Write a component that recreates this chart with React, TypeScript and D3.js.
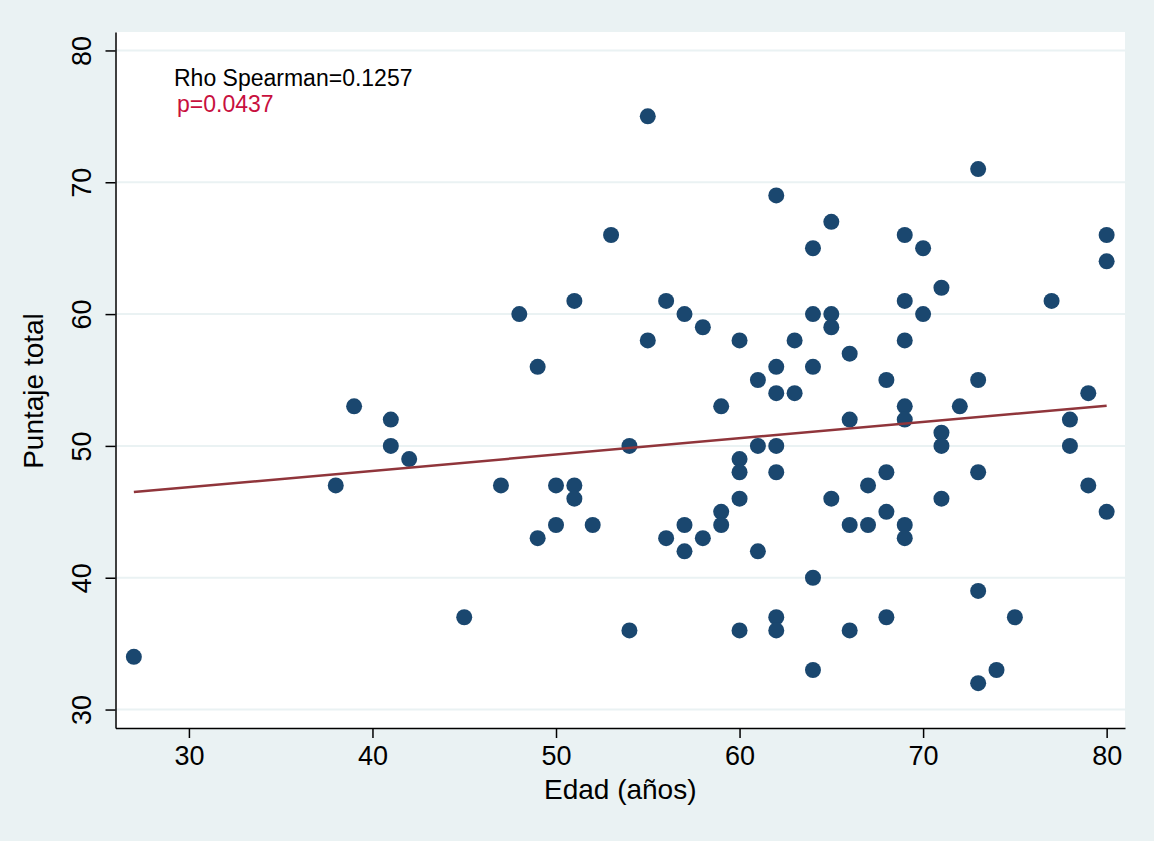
import React, { useRef, useEffect } from 'react';
import * as d3 from 'd3';

// Edad (años) for each patient
const edad: number[] = [
  27, 38, 39, 41, 41, 42, 45, 47, 48, 49, 49, 50, 50, 51, 51, 51, 52, 53, 54, 54,
  55, 55, 56, 56, 57, 57, 57, 58, 58, 59, 59, 59, 60, 60, 60, 60, 60, 61, 61, 61,
  62, 62, 62, 62, 62, 62, 62, 63, 63, 64, 64, 64, 64, 64, 65, 65, 65, 65, 66, 66,
  66, 66, 67, 67, 68, 68, 68, 68, 69, 69, 69, 69, 69, 69, 69, 70, 70, 71, 71, 71,
  71, 72, 73, 73, 73, 73, 73, 74, 75, 77, 78, 78, 79, 79, 80, 80, 80,
];

// Puntaje total, same order as edad
const puntaje: number[] = [
  34, 47, 53, 52, 50, 49, 37, 47, 60, 56, 43, 47, 44, 61, 47, 46, 44, 66, 50, 36,
  75, 58, 61, 43, 60, 44, 42, 59, 43, 53, 45, 44, 58, 49, 48, 46, 36, 55, 50, 42,
  69, 56, 54, 50, 48, 37, 36, 58, 54, 65, 60, 56, 40, 33, 67, 60, 59, 46, 57, 52,
  44, 36, 47, 44, 55, 48, 45, 37, 66, 61, 58, 53, 52, 44, 43, 65, 60, 62, 51, 50,
  46, 53, 71, 55, 48, 39, 32, 33, 37, 61, 52, 50, 54, 47, 66, 64, 45,
];

// fitted line (lfit) end points
const fitEdad = [27, 80];
const fitPuntaje = [46.5, 53.05];

const xTicks = [30, 40, 50, 60, 70, 80];
const yTicks = [30, 40, 50, 60, 70, 80];

const annotations = ['Rho Spearman=0.1257', 'p=0.0437'];

const W = 1154;
const H = 841;
const FONT = "'Liberation Sans', Arial, Helvetica, sans-serif";

const ScatterPlot: React.FC = () => {
  const svgRef = useRef<SVGSVGElement>(null);

  useEffect(() => {
    if (!svgRef.current) return;

    const left = 115.5, right = 1125, top = 32, bottom = 728;

    const x = d3.scaleLinear().domain([26, 81]).range([left, right]);
    const y = d3.scaleLinear().domain([28.6, 81.4]).range([bottom, top]);

    const svg = d3.select(svgRef.current);
    svg.selectAll('*').remove();

    svg.append('rect')
      .attr('width', W).attr('height', H)
      .attr('fill', '#EAF2F3');

    svg.append('rect')
      .attr('x', left).attr('y', top)
      .attr('width', right - left).attr('height', bottom - top)
      .attr('fill', '#fff');

    // horizontal grid
    svg.append('g')
      .selectAll('line')
      .data(yTicks)
      .enter()
      .append('line')
      .attr('x1', left).attr('x2', right)
      .attr('y1', d => y(d)).attr('y2', d => y(d))
      .attr('stroke', '#EAF2F3')
      .attr('stroke-width', 2);

    // points
    const pts = edad.map((e, i) => ({ e, p: puntaje[i] }));
    svg.append('g')
      .selectAll('circle')
      .data(pts)
      .enter()
      .append('circle')
      .attr('cx', d => x(d.e))
      .attr('cy', d => y(d.p))
      .attr('r', 8)
      .attr('fill', '#1A476F');

    // linear fit
    const fitLine = d3.line<number>()
      .x(d => x(fitEdad[d]))
      .y(d => y(fitPuntaje[d]));
    svg.append('path')
      .attr('d', fitLine(d3.range(fitEdad.length)))
      .attr('fill', 'none')
      .attr('stroke', '#90353B')
      .attr('stroke-width', 2.5);

    // axes
    const xAxis = svg.append('g')
      .attr('transform', `translate(0,${bottom})`)
      .call(d3.axisBottom(x).tickValues(xTicks).tickSize(10).tickPadding(8).tickSizeOuter(0));
    xAxis.select('.domain').attr('stroke', '#000').attr('stroke-width', 1.5);
    xAxis.selectAll('.tick line').attr('stroke', '#000').attr('stroke-width', 1.5);
    xAxis.selectAll('.tick text')
      .attr('font-family', FONT)
      .attr('font-size', 27)
      .attr('fill', '#000');

    const yAxis = svg.append('g')
      .attr('transform', `translate(${left},0)`)
      .call(d3.axisLeft(y).tickValues(yTicks).tickSize(10).tickSizeOuter(0));
    yAxis.select('.domain').attr('stroke', '#000').attr('stroke-width', 1.5);
    yAxis.selectAll('.tick line').attr('stroke', '#000').attr('stroke-width', 1.5);
    yAxis.selectAll('.tick text')
      .attr('x', null).attr('dy', null)
      .attr('transform', 'translate(-25,0) rotate(-90)')
      .attr('text-anchor', 'middle')
      .attr('font-family', FONT)
      .attr('font-size', 27)
      .attr('fill', '#000');

    // titles
    svg.append('text')
      .attr('x', (left + right) / 2)
      .attr('y', 799)
      .attr('text-anchor', 'middle')
      .attr('font-family', FONT)
      .attr('font-size', 28)
      .text('Edad (años)');

    svg.append('text')
      .attr('transform', 'translate(43,391) rotate(-90)')
      .attr('text-anchor', 'middle')
      .attr('font-family', FONT)
      .attr('font-size', 28)
      .text('Puntaje total');

    // Spearman annotation
    svg.append('text')
      .attr('x', 174).attr('y', 86)
      .attr('font-family', FONT)
      .attr('font-size', 23)
      .attr('fill', '#000')
      .text(annotations[0]);
    svg.append('text')
      .attr('x', 177).attr('y', 112)
      .attr('font-family', FONT)
      .attr('font-size', 23)
      .attr('fill', '#C8103E')
      .text(annotations[1]);
  }, []);

  return (
    <svg
      ref={svgRef}
      width={W}
      height={H}
      style={{ position: 'absolute', top: 0, left: 0, display: 'block' }}
    />
  );
};

export default function App() {
  return <ScatterPlot />;
}
